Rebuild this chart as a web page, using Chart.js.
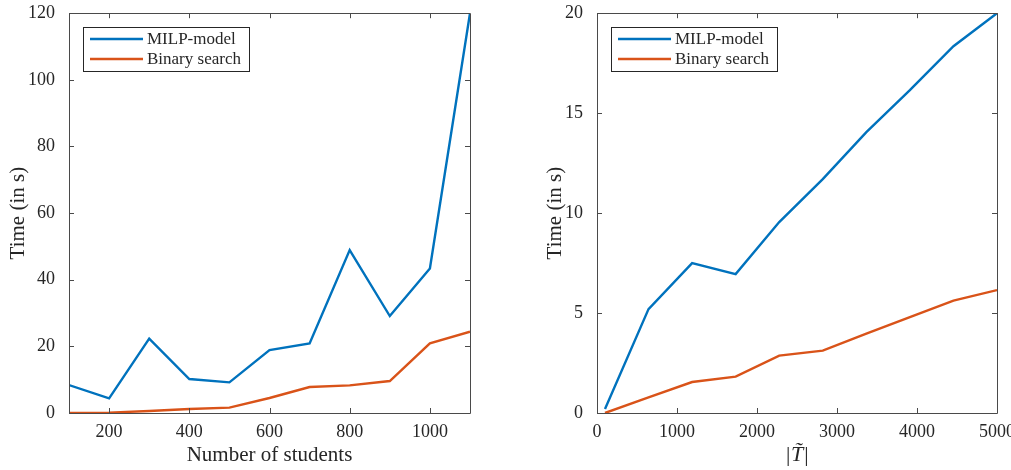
<!DOCTYPE html>
<html>
<head>
<meta charset="utf-8">
<script src="https://cdn.jsdelivr.net/npm/chart.js@4.4.1/dist/chart.umd.min.js"></script>
<style>
  html, body { margin: 0; padding: 0; background: #fff; overflow: hidden; width: 1011px; height: 470px; }
  .panel { position: absolute; top: 0; }
</style>
</head>
<body>
<div class="panel" style="left:0px"><canvas id="ch1" width="505" height="470"></canvas></div>
<div class="panel" style="left:530px"><canvas id="ch2" width="505" height="470"></canvas></div>
<script>
// run times vs. number of students (left panel)
var studentCounts = [100, 200, 300, 400, 500, 600, 700, 800, 900, 1000, 1100];
var milpStudents = [8.4, 4.4, 22.3, 10.2, 9.2, 18.9, 20.9, 48.9, 29.1, 43.4, 120];
var binaryStudents = [0, 0.1, 0.6, 1.2, 1.6, 4.5, 7.8, 8.3, 9.6, 20.9, 24.4];
var studentTicks = [200, 400, 600, 800, 1000];
var timeTicksLeft = [0, 20, 40, 60, 80, 100, 120];

// run times vs. |T~| (right panel)
var tSizes = [100, 644, 1189, 1733, 2278, 2822, 3367, 3911, 4456, 5000];
var milpT = [0.2, 5.2, 7.5, 6.95, 9.55, 11.7, 14.05, 16.15, 18.35, 20.0];
var binaryT = [0, 0.78, 1.55, 1.82, 2.87, 3.12, 3.97, 4.8, 5.62, 6.15];
var tTicks = [0, 1000, 2000, 3000, 4000, 5000];
var timeTicksRight = [0, 5, 10, 15, 20];

var seriesNames = ['MILP-model', 'Binary search'];
var blue = '#0072BD';
var orange = '#D95319';
var serif = "'Liberation Serif', 'Times New Roman', serif";
var textColor = '#262626';
var axisColor = '#4a4a4a';

function toPoints(xs, ys){
  return xs.map(function(x, i){ return {x: x, y: ys[i]}; });
}

function fixedTicks(values){
  return function(scale){
    scale.ticks = values.map(function(v){ return {value: v}; });
  };
}

// plain numbers, no thousands separator
function plainLabel(v){ return String(v); }

// box around the axes with inward ticks on all four sides
var boxAxes = {
  id: 'boxAxes',
  afterDraw: function(chart){
    var ctx = chart.ctx, a = chart.chartArea;
    var xs = chart.scales.x, ys = chart.scales.y;
    var len = 5;
    ctx.save();
    ctx.strokeStyle = axisColor;
    ctx.lineWidth = 1;
    ctx.beginPath();
    ctx.rect(Math.round(a.left) + 0.5, Math.round(a.top) + 0.5, Math.round(a.right - a.left), Math.round(a.bottom - a.top));
    xs.ticks.forEach(function(t){
      var px = Math.round(xs.getPixelForValue(t.value)) + 0.5;
      ctx.moveTo(px, a.bottom); ctx.lineTo(px, a.bottom - len);
      ctx.moveTo(px, a.top); ctx.lineTo(px, a.top + len);
    });
    ys.ticks.forEach(function(t){
      var py = Math.round(ys.getPixelForValue(t.value)) + 0.5;
      ctx.moveTo(a.left, py); ctx.lineTo(a.left + len, py);
      ctx.moveTo(a.right, py); ctx.lineTo(a.right - len, py);
    });
    ctx.stroke();
    ctx.restore();
  }
};

// boxed legend in the upper left corner of the plot
var boxLegend = {
  id: 'boxLegend',
  afterDraw: function(chart){
    var ctx = chart.ctx, a = chart.chartArea;
    var x0 = Math.round(a.left) + 14, y0 = Math.round(a.top) + 14;
    var rowH = 20, sample = 53;
    ctx.save();
    ctx.font = '17px ' + serif;
    var w = 0;
    chart.data.datasets.forEach(function(ds){ w = Math.max(w, ctx.measureText(ds.label).width); });
    var boxW = Math.round(7 + sample + 4 + w + 8);
    var boxH = 44;
    ctx.fillStyle = '#fff';
    ctx.fillRect(x0, y0, boxW, boxH);
    ctx.strokeStyle = '#262626';
    ctx.lineWidth = 1;
    ctx.strokeRect(x0 + 0.5, y0 + 0.5, boxW, boxH);
    chart.data.datasets.forEach(function(ds, i){
      var cy = y0 + 12 + i * rowH;
      ctx.strokeStyle = ds.borderColor;
      ctx.lineWidth = 2.4;
      ctx.beginPath();
      ctx.moveTo(x0 + 7, cy);
      ctx.lineTo(x0 + 7 + sample, cy);
      ctx.stroke();
      ctx.fillStyle = textColor;
      ctx.textBaseline = 'middle';
      ctx.textAlign = 'left';
      ctx.fillText(ds.label, x0 + 7 + sample + 4, cy + 1);
    });
    ctx.restore();
  }
};

function makeChart(id, p){
  return new Chart(document.getElementById(id).getContext('2d'), {
    type: 'line',
    data: {
      datasets: [
        {label: seriesNames[0], data: toPoints(p.xs, p.milp), borderColor: blue, borderWidth: 2.4, pointRadius: 0, tension: 0},
        {label: seriesNames[1], data: toPoints(p.xs, p.binary), borderColor: orange, borderWidth: 2.4, pointRadius: 0, tension: 0}
      ]
    },
    options: {
      responsive: false,
      animation: false,
      events: [],
      layout: {padding: {top: 13, right: p.padRight, bottom: 0, left: 0}},
      plugins: {legend: {display: false}, tooltip: {enabled: false}},
      scales: {
        x: {
          type: 'linear', min: p.xMin, max: p.xMax,
          afterBuildTicks: fixedTicks(p.xTicks),
          afterFit: function(s){ s.height = 57; },
          grid: {display: false}, border: {display: false},
          ticks: {font: {family: serif, size: 18}, color: textColor, padding: 0, maxRotation: 0, autoSkip: false, callback: plainLabel},
          title: {display: true, text: p.xTitle, color: textColor,
                  font: {family: serif, size: p.xTitleSize, style: p.xTitleStyle}, padding: {top: 0, bottom: 2}}
        },
        y: {
          type: 'linear', min: p.yMin, max: p.yMax,
          afterBuildTicks: fixedTicks(p.yTicks),
          afterFit: function(s){ s.width = p.yWidth; },
          grid: {display: false}, border: {display: false},
          ticks: {font: {family: serif, size: 18, lineHeight: 0.8}, color: textColor, padding: 6, callback: plainLabel},
          title: {display: true, text: 'Time (in s)', color: textColor,
                  font: {family: serif, size: 21}, padding: {top: p.yTitlePad, bottom: 0}}
        }
      }
    },
    plugins: [boxAxes, boxLegend]
  });
}

var chartStudents = makeChart('ch1', {
  xs: studentCounts, milp: milpStudents, binary: binaryStudents,
  xMin: 100, xMax: 1100, xTicks: studentTicks,
  yMin: 0, yMax: 120, yTicks: timeTicksLeft,
  xTitle: 'Number of students', xTitleSize: 21, xTitleStyle: 'normal',
  yWidth: 69, yTitlePad: 6, padRight: 35
});

var chartT = makeChart('ch2', {
  xs: tSizes, milp: milpT, binary: binaryT,
  xMin: 0, xMax: 5000, xTicks: tTicks,
  yMin: 0, yMax: 20, yTicks: timeTicksRight,
  xTitle: '|T\u0303|', xTitleSize: 22, xTitleStyle: 'italic',
  yWidth: 67, yTitlePad: 13, padRight: 38
});
</script>
</body>
</html>
